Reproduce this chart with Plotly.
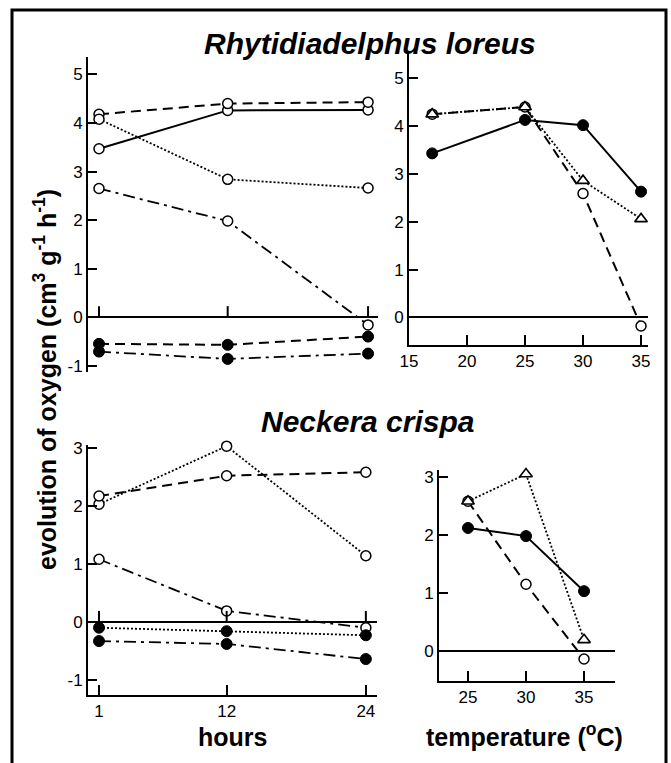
import plotly.graph_objects as go

# ---------------- data ----------------
hours = [1, 12, 24]
hour_ticks = [1, 12, 24]

# Rhytidiadelphus loreus vs hours
rl_h_solid_open = [3.47, 4.26, 4.27]
rl_h_dash_open = [4.18, 4.40, 4.43]
rl_h_dot_open = [4.08, 2.84, 2.66]
rl_h_dashdot_open = [2.65, 1.98, -0.16]
rl_h_dash_filled = [-0.55, -0.57, -0.40]
rl_h_dashdot_filled = [-0.71, -0.86, -0.75]

# Rhytidiadelphus loreus vs temperature
rl_temp = [17, 25, 30, 35]
rl_t_solid_filled = [3.43, 4.13, 4.02, 2.63]
rl_t_dot_tri = [4.25, 4.40, 2.86, 2.06]
rl_t_dash_open = [4.25, 4.40, 2.59, -0.18]

# Neckera crispa vs hours
nc_h_dot_open = [2.03, 3.03, 1.14]
nc_h_dash_open = [2.17, 2.52, 2.58]
nc_h_dashdot_open = [1.08, 0.19, -0.10]
nc_h_dot_filled = [-0.10, -0.16, -0.23]
nc_h_dashdot_filled = [-0.33, -0.38, -0.64]

# Neckera crispa vs temperature
nc_temp = [25, 30, 35]
nc_t_solid_filled = [2.12, 1.98, 1.03]
nc_t_dot_tri = [2.58, 3.05, 0.19]
nc_t_dash_open = [2.58, 1.15, -0.14]

rl_h_yticks = [-1, 0, 1, 2, 3, 4, 5]
rl_t_yticks = [0, 1, 2, 3, 4, 5]
rl_t_xticks = [15, 20, 25, 30, 35]
nc_h_yticks = [-1, 0, 1, 2, 3]
nc_t_yticks = [0, 1, 2, 3]
nc_t_xticks = [25, 30, 35]

# ---------------- styling ----------------
W, H = 671, 763
FONT = "Liberation Sans"

def xdom(p0, p1):
    return [p0 / W, p1 / W]

def ydom(ptop, pbot):
    return [1 - pbot / H, 1 - ptop / H]

DASH = "10px,6px"
DOT = "2px,2px"
DASHDOT = "12px,5px,3px,5px"

open_c = dict(symbol="circle", size=10, color="white", line=dict(color="black", width=1.5))
fill_c = dict(symbol="circle", size=11, color="black", line=dict(color="black", width=1))
tri = dict(symbol="triangle-up", size=11, color="white", line=dict(color="black", width=1.6))

fig = go.Figure()

def add(x, y, dash, marker, xa, ya, width=2.0):
    fig.add_trace(go.Scatter(
        x=x, y=y, mode="lines+markers", cliponaxis=False,
        line=dict(color="black", width=width, dash=dash),
        marker=marker, xaxis=xa, yaxis=ya, showlegend=False, hoverinfo="skip"))

# Top-left
add(hours, rl_h_solid_open, "solid", open_c, "x", "y")
add(hours, rl_h_dash_open, DASH, open_c, "x", "y")
add(hours, rl_h_dot_open, DOT, open_c, "x", "y", 1.8)
add(hours, rl_h_dashdot_open, DASHDOT, open_c, "x", "y", 1.8)
add(hours, rl_h_dash_filled, DASH, fill_c, "x", "y")
add(hours, rl_h_dashdot_filled, DASHDOT, fill_c, "x", "y", 1.8)

# Top-right
add(rl_temp, rl_t_dash_open, DASH, open_c, "x2", "y2")
add(rl_temp, rl_t_dot_tri, DOT, tri, "x2", "y2", 1.8)
add(rl_temp, rl_t_solid_filled, "solid", fill_c, "x2", "y2")

# Bottom-left
add(hours, nc_h_dot_open, DOT, open_c, "x3", "y3", 1.8)
add(hours, nc_h_dash_open, DASH, open_c, "x3", "y3")
add(hours, nc_h_dashdot_open, DASHDOT, open_c, "x3", "y3", 1.8)
add(hours, nc_h_dot_filled, DOT, fill_c, "x3", "y3", 1.8)
add(hours, nc_h_dashdot_filled, DASHDOT, fill_c, "x3", "y3", 1.8)

# Bottom-right
add(nc_temp, nc_t_dash_open, DASH, open_c, "x4", "y4")
add(nc_temp, nc_t_dot_tri, DOT, tri, "x4", "y4", 1.8)
add(nc_temp, nc_t_solid_filled, "solid", fill_c, "x4", "y4")

tickfont = dict(family=FONT, size=17, color="black")

def yax(domain, rng, ticks, anchor):
    return dict(domain=domain, range=rng, anchor=anchor, tickvals=ticks,
                ticktext=[str(t) for t in ticks], ticks="inside", ticklen=9,
                tickwidth=2, tickcolor="black", showline=True, linecolor="black",
                linewidth=2, showgrid=False, zeroline=True, zerolinecolor="black",
                zerolinewidth=2, tickfont=tickfont, fixedrange=True, automargin=False)

def xax(domain, rng, ticks, anchor, visible=True):
    d = dict(domain=domain, range=rng, anchor=anchor, showgrid=False, zeroline=False,
             fixedrange=True, automargin=False)
    if visible:
        d.update(tickvals=ticks, ticktext=[str(t) for t in ticks], ticks="inside",
                 ticklen=10, tickwidth=2, tickcolor="black", showline=True,
                 linecolor="black", linewidth=2, tickfont=tickfont)
    else:
        d.update(showline=False, showticklabels=False, ticks="")
    return d

fig.update_layout(
    template="none",
    width=W, height=H, margin=dict(l=0, r=0, t=0, b=0, pad=0),
    paper_bgcolor="white", plot_bgcolor="white",
    xaxis=xax(xdom(88, 378), [0.06, 24.85], hour_ticks, "y", visible=False),
    yaxis=yax(ydom(57, 372), [-1.13, 5.36], rl_h_yticks, "x"),
    xaxis2=xax(xdom(409, 648), [15, 35.6], rl_t_xticks, "y2"),
    yaxis2=yax(ydom(52, 345), [-0.577, 5.55], rl_t_yticks, "x2"),
    xaxis3=xax(xdom(88, 377), [0.05, 24.96], hour_ticks, "y3"),
    yaxis3=yax(ydom(445, 695), [-1.26, 3.05], nc_h_yticks, "x3"),
    xaxis4=xax(xdom(439, 615), [22.5, 37.67], nc_t_xticks, "y4"),
    yaxis4=yax(ydom(470, 681), [-0.52, 3.12], nc_t_yticks, "x4"),
)

# upward ticks on the zero line of the hour panels
for xa, ya in (("x", "y"), ("x3", "y3")):
    for t in hour_ticks:
        fig.add_shape(type="line", xref=xa, yref=ya, ysizemode="pixel", yanchor=0,
                      x0=t, x1=t, y0=0, y1=11, line=dict(color="black", width=2))

# frame
fig.add_shape(type="rect", xref="paper", yref="paper", x0=12 / W, x1=666 / W,
              y0=-0.02, y1=1 - 10 / H, line=dict(color="black", width=3),
              fillcolor="rgba(0,0,0,0)", layer="above")

def ann(text, px, py, size, angle=0):
    fig.add_annotation(text=text, x=px / W, y=1 - py / H, xref="paper", yref="paper",
                       showarrow=False, textangle=angle, xanchor="center", yanchor="middle",
                       font=dict(family=FONT, size=size, color="black"))

ann("<b><i>Rhytidiadelphus loreus</i></b>", 370, 43, 30)
ann("<b><i>Neckera crispa</i></b>", 368, 421, 30)
ann("<b>evolution of oxygen (cm<sup>3</sup> g<sup>-1</sup> h<sup>-1</sup>)</b>", 45, 380, 25, -90)
ann("<b>hours</b>", 232, 737, 25)
ann("<b>temperature (<sup>o</sup>C)</b>", 524, 735, 25)

fig.write_html("out.html", config={"displayModeBar": False},
               post_script="document.body.style.margin='0px';")
